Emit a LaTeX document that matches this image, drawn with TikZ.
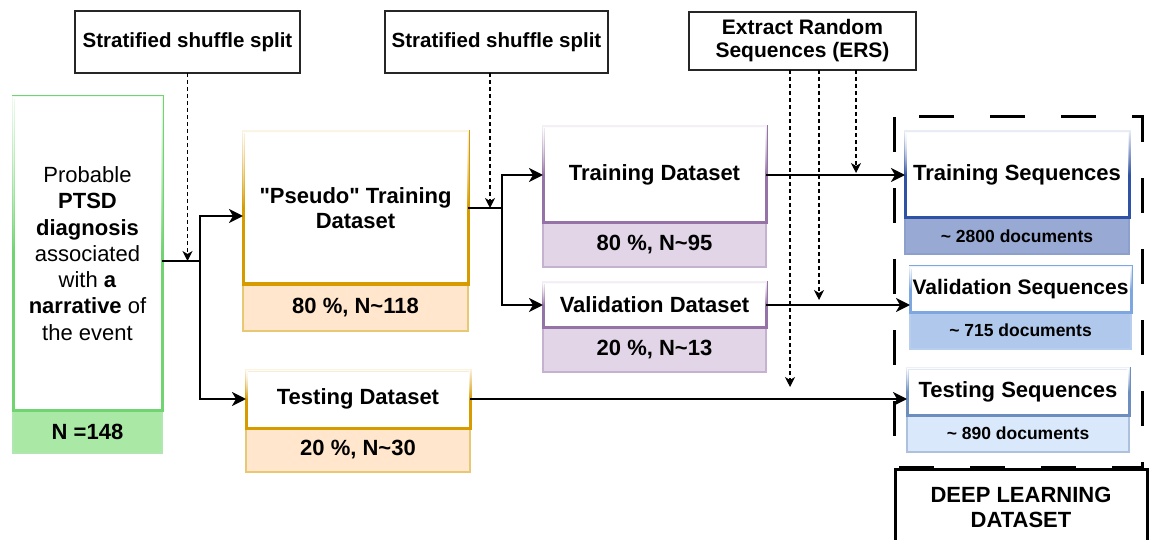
\documentclass[tikz,border=0pt]{standalone}
\usepackage{fontspec}
\setmainfont{Liberation Sans}
\usetikzlibrary{arrows.meta, positioning, fadings}

\definecolor{grnD}{RGB}{112,212,112}
\definecolor{grnL}{RGB}{170,232,165}
\definecolor{orgD}{HTML}{D79B00}
\definecolor{orgL}{HTML}{FFE6CC}
\definecolor{purD}{HTML}{9673A6}
\definecolor{purL}{HTML}{E1D5E7}
\definecolor{trnD}{RGB}{48,82,164}
\definecolor{trnL}{RGB}{152,170,212}
\definecolor{valD}{HTML}{7EA6E0}
\definecolor{valL}{HTML}{AFC8EC}
\definecolor{tstD}{HTML}{6C8EBF}
\definecolor{tstL}{HTML}{DAE8FC}

\tikzfading[name=topfade, top color=transparent!10, bottom color=transparent!100, middle color=transparent!100]

\begin{document}
\begin{tikzpicture}[x=1pt, y=-1pt,
    font=\bfseries\fontsize{22}{25}\selectfont,
    every node/.style={outer sep=0pt, inner sep=1pt, align=center},
    mainbox/.style={draw=#1D, fill=white, line width=3pt,
        postaction={draw=white, fill=white, path fading=topfade}},
    numbox/.style={draw=#1D!55, fill=#1L, line width=1.2pt},
    splitbox/.style={draw=black!85, fill=white, line width=1.3pt, font=\bfseries\fontsize{20.5}{23}\selectfont},
    link/.style={line width=2.3pt},
    flow/.style={line width=2.3pt, -{Stealth[length=14pt, width=14pt, inset=4pt]}},
    dashflow/.style={line width=1.3pt, dash pattern=on 4pt off 3pt, -{Stealth[length=10pt, width=10pt, inset=3pt]}},
    docs/.style={font=\bfseries\fontsize{17.5}{20}\selectfont}]

\useasboundingbox (0,0) rectangle (1149,540);

% split steps
\node[splitbox, minimum width=225pt, minimum height=62pt] (split1) at (187.5,42) {Stratified shuffle split};
\node[splitbox, minimum width=223pt, minimum height=62pt] (split2) at (496.5,42) {Stratified shuffle split};
\node[splitbox, minimum width=227pt, minimum height=58pt, font=\bfseries\fontsize{21}{23}\selectfont] (ers) at (802.5,41) {Extract Random\\Sequences (ERS)};

% deep learning dataset frame
\draw[line width=3pt, dash pattern=on 35pt off 36pt] (894,117) rectangle (1142,467);
\draw[line width=3pt, fill=white] (895,469) rectangle (1147,570);
\node (dlset) at (1021,507) {DEEP LEARNING\\DATASET};

% datasets
\node[numbox=grn, minimum width=149pt, minimum height=43pt] (ptsdN) at (87.5,431.5) {N =148};
\node[mainbox=grn, minimum width=149pt, minimum height=313pt, above=0pt of ptsdN,
      font=\mdseries\fontsize{22}{26.3}\selectfont] (ptsd)
      {Probable\\\textbf{PTSD}\\\textbf{diagnosis}\\associated\\with \textbf{a}\\\textbf{narrative} of\\the event};

\node[numbox=org, minimum width=225pt, minimum height=47pt] (ptrainN) at (355.5,307.5) {80 \%, N\textasciitilde 118};
\node[mainbox=org, minimum width=225pt, minimum height=152pt, above=0pt of ptrainN] (ptrain) {\textquotedbl Pseudo\textquotedbl{} Training\\Dataset};

\node[numbox=org, minimum width=224pt, minimum height=44pt] (ptestN) at (358,450) {20 \%, N\textasciitilde 30};
\node[mainbox=org, minimum width=224pt, minimum height=58pt, above=0pt of ptestN] (ptest) {Testing Dataset};

\node[numbox=pur, minimum width=223pt, minimum height=44pt] (trainN) at (654.5,245) {80 \%, N\textasciitilde 95};
\node[mainbox=pur, minimum width=223pt, minimum height=96pt, above=0pt of trainN] (train) {Training Dataset};

\node[numbox=pur, minimum width=223pt, minimum height=45pt] (valN) at (654.5,349.5) {20 \%, N\textasciitilde 13};
\node[mainbox=pur, minimum width=223pt, minimum height=44pt, above=0pt of valN] (val) {Validation Dataset};

% sequences
\node[numbox=trn, docs, minimum width=224pt, minimum height=36pt] (trainseqN) at (1017,236) {\textasciitilde{} 2800 documents};
\node[mainbox=trn, minimum width=224pt, minimum height=86pt, above=0pt of trainseqN] (trainseq) {Training Sequences};

\node[numbox=val, docs, minimum width=221pt, minimum height=37pt] (valseqN) at (1020.5,330.5) {\textasciitilde{} 715 documents};
\node[mainbox=val, minimum width=221pt, minimum height=45pt, above=0pt of valseqN,
      font=\bfseries\fontsize{21}{25}\selectfont] (valseq) {Validation Sequences};

\node[numbox=tst, docs, minimum width=222pt, minimum height=37pt] (testseqN) at (1018,433.5) {\textasciitilde{} 890 documents};
\node[mainbox=tst, minimum width=222pt, minimum height=47pt, above=0pt of testseqN] (testseq) {Testing Sequences};

% connectors
\coordinate (fork1) at (200,261);
\coordinate (fork2) at (502,208);
\coordinate (tipS2) at (490,208);
\coordinate (ersA) at (790,387);
\coordinate (ersB) at (819,300);
\coordinate (ersC) at (856,173);

\draw[link] (ptsd.east |- fork1) -- (fork1);
\draw[flow] (fork1) |- ([yshift=-8pt]ptrain.west);
\draw[flow] (fork1) |- (ptest.west);
\draw[dashflow] (split1.south) -- (split1.south |- fork1);

\draw[link] (ptrain.east) -- (fork2);
\draw[flow] (fork2) |- (train.west);
\draw[flow] (fork2) |- (val.west);
\draw[dashflow] (split2.south -| tipS2) -- (tipS2);

\draw[flow] (train.east) -- (train.east -| trainseq.west);
\draw[flow] (val.east) -- (val.east -| valseq.west);
\draw[flow] (ptest.east) -- (ptest.east -| testseq.west);

\draw[dashflow] (ers.south -| ersA) -- (ersA);
\draw[dashflow] (ers.south -| ersB) -- (ersB);
\draw[dashflow] (ers.south -| ersC) -- (ersC);
\end{tikzpicture}
\end{document}
